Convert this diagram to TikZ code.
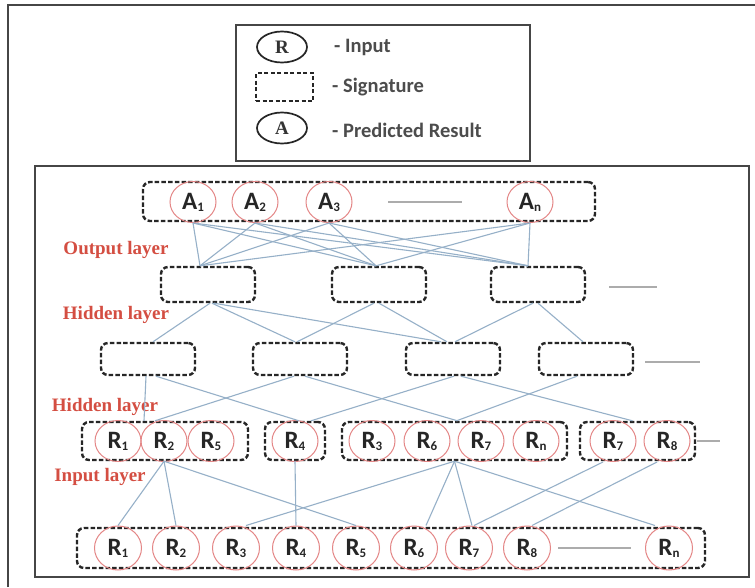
\documentclass[tikz,border=0pt]{standalone}
\usepackage{fontspec}
\setmainfont{Liberation Serif}
\newfontfamily\calfont{Carlito}
\usetikzlibrary{shapes.geometric}
\definecolor{linkc}{RGB}{150,176,200}
\definecolor{circc}{RGB}{228,135,135}
\definecolor{layerc}{RGB}{212,78,66}
\definecolor{framec}{RGB}{70,70,70}
\newcommand{\lbl}[2]{#1\raisebox{-2pt}{\fontsize{13}{13}\selectfont #2}}
\begin{document}
\begin{tikzpicture}[x=1pt,y=-1pt,
  sig/.style={draw=black!85, line width=2.4pt, dash pattern=on 4.5pt off 2.2pt, rounded corners=7pt, inner sep=0pt},
  inp/.style={ellipse, draw=circc, line width=1pt, minimum width=46pt, minimum height=41pt, inner sep=0pt,
    font=\calfont\bfseries\fontsize{25}{25}\selectfont, text=black!85},
  binp/.style={inp, minimum width=47pt, minimum height=44pt},
  link/.style={draw=linkc, line width=1.1pt},
  layer/.style={text=layerc, font=\bfseries\fontsize{19}{19}\selectfont, inner sep=0pt},
  legtxt/.style={anchor=west, text=black!70, font=\calfont\bfseries\fontsize{20.5}{20.5}\selectfont, inner sep=0pt},
  legcirc/.style={ellipse, draw=black!85, line width=1.7pt, minimum width=50pt, minimum height=31pt, inner sep=0pt,
    font=\bfseries\fontsize{19}{19}\selectfont, text=black!80},
  dashline/.style={draw=gray!65, line width=2pt},
  frame/.style={draw=framec, line width=2pt}
]
\useasboundingbox (0,0) rectangle (755,587);
\fill[white] (0,0) rectangle (755,587);
% outer frame
\coordinate (fa) at (8,587);
\coordinate (fb) at (8,5);
\coordinate (fc) at (755,5);
\draw[frame] (fa) -- (fb) -- (fc);

% legend
\node[draw=framec, line width=2pt, minimum width=294pt, minimum height=136pt] (legend) at (383,93) {};
\node[legcirc] (lr) at (282,47) {R};
\node[legtxt] (lrt) at (334,47) {- Input};
\node[draw=black!85, line width=2pt, dash pattern=on 4pt off 2.5pt, minimum width=57pt, minimum height=28pt] (ls) at (284.5,87) {};
\node[legtxt] (lst) at (332,87) {- Signature};
\node[legcirc] (la) at (282,128) {A};
\node[legtxt] (lat) at (332,130) {- Predicted Result};

% main box
\node[draw=framec, line width=2.2pt, minimum width=714pt, minimum height=411pt] (main) at (392,371.5) {};

% ---------- boxes ----------
\node[sig, minimum width=452pt, minimum height=39pt] (Abox) at (369,201.5) {};
\node[sig, minimum width=94pt, minimum height=35pt] (H1) at (208,284.5) {};
\node[sig, minimum width=94pt, minimum height=35pt] (H2) at (379,284.5) {};
\node[sig, minimum width=94pt, minimum height=35pt] (H3) at (538,284.5) {};
\node[sig, minimum width=94pt, minimum height=32pt] (B1) at (148,359) {};
\node[sig, minimum width=94pt, minimum height=32pt] (B2) at (300,359) {};
\node[sig, minimum width=94pt, minimum height=32pt] (B3) at (453,359) {};
\node[sig, minimum width=94pt, minimum height=32pt] (B4) at (586,359) {};
\node[sig, minimum width=166pt, minimum height=38pt] (G1) at (165,441) {};
\node[sig, minimum width=60pt, minimum height=38pt] (G2) at (295,441) {};
\node[sig, minimum width=225pt, minimum height=38pt] (G3) at (454.5,441) {};
\node[sig, minimum width=115pt, minimum height=38pt] (G4) at (637.5,441) {};
\node[sig, minimum width=628pt, minimum height=40pt] (Bot) at (391,548) {};

% ---------- circles ----------
\node[inp] (a1) at (193,202) {\lbl{A}{1}};
\node[inp] (a2) at (255,202) {\lbl{A}{2}};
\node[inp] (a3) at (329,202) {\lbl{A}{3}};
\node[inp] (an) at (530,202) {\lbl{A}{n}};

\node[inp] (g1r1) at (118,441) {\lbl{R}{1}};
\node[inp] (g1r2) at (164,441) {\lbl{R}{2}};
\node[inp] (g1r5) at (211,441) {\lbl{R}{5}};
\node[inp] (g2r4) at (295,441) {\lbl{R}{4}};
\node[inp] (g3r3) at (372,441) {\lbl{R}{3}};
\node[inp] (g3r6) at (427,441) {\lbl{R}{6}};
\node[inp] (g3r7) at (481,441) {\lbl{R}{7}};
\node[inp] (g3rn) at (536,441) {\lbl{R}{n}};
\node[inp] (g4r7) at (613,441) {\lbl{R}{7}};
\node[inp] (g4r8) at (667,441) {\lbl{R}{8}};

\node[binp] (b1) at (118,548) {\lbl{R}{1}};
\node[binp] (b2) at (176,548) {\lbl{R}{2}};
\node[binp] (b3) at (236,548) {\lbl{R}{3}};
\node[binp] (b4) at (296,548) {\lbl{R}{4}};
\node[binp] (b5) at (356,548) {\lbl{R}{5}};
\node[binp] (b6) at (414,548) {\lbl{R}{6}};
\node[binp] (b7) at (469,548) {\lbl{R}{7}};
\node[binp] (b8) at (527,548) {\lbl{R}{8}};
\node[binp] (bn) at (669,548) {\lbl{R}{n}};

% ---------- dash marks ----------
\coordinate (d1a) at (388,202); \coordinate (d1b) at (462,202);
\coordinate (d2a) at (609,287); \coordinate (d2b) at (657,287);
\coordinate (d3a) at (645,362); \coordinate (d3b) at (700,362);
\coordinate (d4a) at (697,441); \coordinate (d4b) at (720,441);
\coordinate (d5a) at (558,548); \coordinate (d5b) at (631,548);
\draw[dashline] (d1a) -- (d1b);
\draw[dashline] (d2a) -- (d2b);
\draw[dashline] (d3a) -- (d3b);
\draw[dashline, line width=1.5pt] (d4a) -- (d4b);
\draw[dashline, line width=1.5pt] (d5a) -- (d5b);

% ---------- layer labels ----------
\node[layer] (lout) at (116,250) {Output layer};
\node[layer] (lhid1) at (116,315) {Hidden layer};
\node[layer] (lhid2) at (105,407) {Hidden layer};
\node[layer] (linp) at (100,477) {Input layer};

% ---------- links: A -> H ----------
\foreach \a in {a1,a2,a3,an}{
  \draw[link] (\a.south) -- ([xshift=-8pt]H1.north);
  \draw[link] (\a.south) -- ([xshift=-3pt]H2.north);
  \draw[link] (\a.south) -- ([xshift=-10pt]H3.north);
}
% ---------- links: H -> B ----------
\draw[link] ([xshift=2pt]H1.south) -- ([xshift=5pt]B1.north);
\draw[link] ([xshift=4pt]H1.south) -- ([xshift=-5pt]B2.north);
\draw[link] ([xshift=6pt]H1.south) -- ([xshift=-12pt]B3.north);
\draw[link] ([xshift=-5pt]H2.south) -- ([xshift=-3pt]B2.north);
\draw[link] (H2.south) -- ([xshift=-6pt]B3.north);
\draw[link] ([xshift=-5pt]H3.south) -- ([xshift=2pt]B3.north);
\draw[link] (H3.south) -- ([xshift=-3pt]B4.north);
% ---------- links: B -> G ----------
\draw[link] ([xshift=-2pt]B1.south) -- ([xshift=-21pt]G1.north);
\draw[link] ([xshift=8pt]B1.south) -- ([xshift=4pt]G2.north);
\draw[link] ([xshift=-6pt]B2.south) -- ([xshift=-10pt]G1.north);
\draw[link] ([xshift=5pt]B2.south) -- ([xshift=3pt]G3.north);
\draw[link] ([xshift=1pt]B3.south) -- ([xshift=16pt]G2.north);
\draw[link] ([xshift=8pt]B3.south) -- ([xshift=-5pt]G4.north);
\draw[link] ([xshift=-9pt]B4.south) -- ([xshift=2pt]G3.north);
% ---------- links: G -> bottom ----------
\draw[link] (g1r2 |- G1.south) -- (b1.north);
\draw[link] (g1r2 |- G1.south) -- (b2.north);
\draw[link] (g1r2 |- G1.south) -- (b5.north);
\draw[link] (g2r4 |- G2.south) -- (b4.north);
\draw[link] (G3.south) -- ([xshift=10pt]b3.north);
\draw[link] (G3.south) -- ([xshift=12pt]b6.north);
\draw[link] (G3.south) -- ([xshift=3pt]b7.north);
\draw[link] (G3.south) -- ([xshift=-14pt]bn.north);
\draw[link] ([xshift=-10pt]g4r7.south) -- ([xshift=5pt]b7.north);
\draw[link] ([xshift=-10pt]g4r8.south) -- ([xshift=5pt]b8.north);
\end{tikzpicture}
\end{document}
